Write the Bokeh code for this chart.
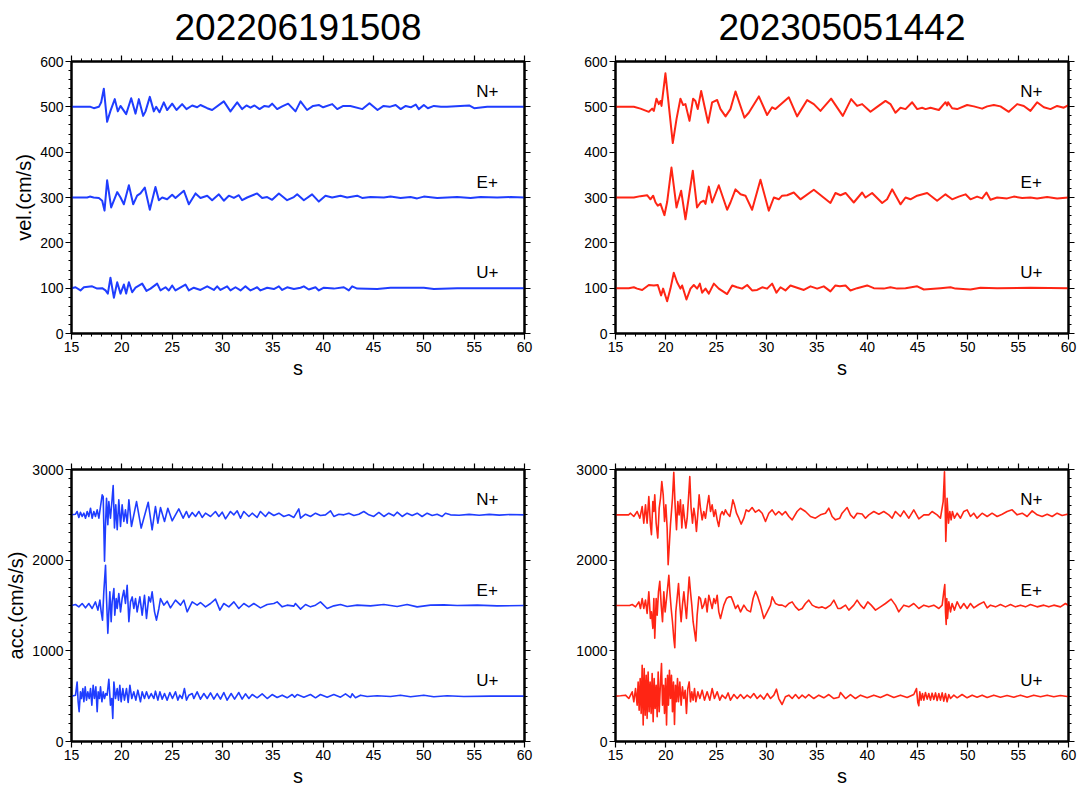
from bokeh.plotting import figure
from bokeh.layouts import column, row
from bokeh.models import Range1d, LinearAxis, SingleIntervalTicker
from bokeh.embed import file_html
from bokeh.resources import INLINE
from bokeh.core.properties import value

FONT = "Liberation Sans"
BLUE = "#1f3dff"
RED = "#ff2514"

titles = ["202206191508", "202305051442"]
components = ["N+", "E+", "U+"]
x_limits = (15, 60)
vel_limits = (0, 600)
acc_limits = (0, 3000)
vel_baselines = [500, 300, 100]
acc_baselines = [2500, 1500, 500]

# ---- velocity, event 202206191508 (time s, cm/s) ----
vel_2022_N = [(15.0,500),(16.89,500),(17.22,497),(17.72,500),(17.95,510),(18.21,540),(18.54,467),(18.87,491),(19.30,517),(19.60,490),(19.87,502),(20.43,484),(20.93,519),(21.36,485),(21.69,517),(22.12,480),(22.35,490),(22.78,522),(23.18,490),(23.41,500),(23.74,488),(24.17,510),(24.50,493),(25.00,507),(25.43,493),(25.99,506),(26.42,495),(26.99,503),(27.48,499),(27.81,504),(28.48,497),(28.97,493),(30.13,512),(30.79,490),(31.46,510),(31.95,495),(32.38,503),(32.78,498),(33.18,503),(33.68,495),(34.17,502),(34.60,500),(34.93,507),(35.43,495),(35.93,501),(36.52,507),(37.25,490),(37.75,512),(38.40,493),(39.00,502),(39.60,504),(40.00,499),(40.90,506),(41.40,495),(42.00,502),(42.70,502),(43.90,495),(44.60,508),(45.40,493),(46.00,502),(46.60,500),(47.20,504),(47.70,495),(48.20,502),(48.70,499),(49.20,505),(49.50,495),(50.00,504),(50.40,497),(51.00,502),(51.70,500),(52.30,500),(54.50,503),(55.00,497),(56.30,500),(60.00,500)]
vel_2022_E = [(15.0,300),(16.56,300),(16.82,302),(17.2,300),(17.72,299),(18.05,293),(18.28,271),(18.54,338),(18.94,278),(19.54,312),(19.87,300),(20.20,285),(20.70,327),(21.13,285),(21.52,304),(21.85,309),(22.28,322),(22.78,273),(23.34,323),(23.68,294),(24.01,300),(24.50,296),(25.00,306),(25.33,299),(26.16,315),(26.66,285),(27.32,309),(27.81,299),(28.48,304),(28.97,294),(29.64,307),(30.13,293),(30.63,304),(31.13,299),(31.62,305),(31.95,294),(32.45,300),(33.44,309),(33.94,299),(34.44,301),(34.93,295),(35.60,309),(36.42,294),(37.09,301),(37.42,307),(38.08,294),(38.90,307),(39.57,291),(40.23,304),(40.89,300),(41.72,304),(42.38,300),(43.38,304),(43.87,299),(44.70,301),(46.03,300),(46.69,302),(47.68,299),(48.68,301),(49.34,298),(50.00,302),(51.33,299),(53.31,301),(54.64,299),(55.63,301),(57.29,300),(58.61,301),(60.0,300)]
vel_2022_U = [(15.0,100),(15.4,102),(15.89,95),(16.23,102),(17.05,104),(17.55,99),(18.05,100),(18.38,95),(18.61,88),(18.87,123),(19.21,79),(19.54,113),(19.87,88),(20.2,108),(20.43,88),(20.7,113),(21.03,91),(21.36,101),(22.02,110),(22.45,94),(22.85,99),(23.51,110),(23.84,95),(24.34,102),(24.67,95),(25.0,106),(25.33,95),(26.32,108),(26.66,95),(27.15,101),(27.81,96),(28.48,104),(29.14,96),(29.47,104),(29.8,96),(30.46,104),(30.79,95),(31.29,102),(31.79,95),(32.28,104),(32.78,95),(33.44,102),(33.77,95),(34.44,101),(35.1,98),(35.6,104),(35.93,96),(36.42,102),(37.09,98),(37.75,101),(38.08,104),(38.57,97),(39.24,102),(39.57,95),(40.07,101),(41.06,99),(42.05,102),(42.55,95),(42.88,104),(43.38,99),(45.36,98),(46.69,101),(50.0,101),(50.99,98),(53.31,100),(60.0,100)]

# ---- velocity, event 202305051442 ----
vel_2023_N = [(15.0,500),(16.82,500),(17.48,496),(18.31,489),(18.64,496),(18.81,491),(19.07,518),(19.30,506),(19.47,513),(19.57,502),(19.96,574),(20.69,420),(21.06,473),(21.45,518),(21.72,504),(21.95,506),(22.35,469),(22.71,518),(22.94,513),(23.17,495),(23.51,535),(24.20,465),(24.60,510),(25.10,515),(25.43,495),(25.93,479),(26.42,495),(26.92,534),(27.81,476),(28.24,487),(29.24,523),(30.06,482),(30.56,499),(30.89,495),(32.22,521),(33.04,479),(34.04,515),(34.70,506),(35.36,491),(36.42,518),(37.58,480),(38.41,517),(39.00,502),(39.50,506),(40.33,489),(40.99,500),(41.82,513),(42.31,506),(42.81,487),(43.31,498),(43.81,495),(44.47,510),(44.97,495),(45.46,498),(45.80,495),(46.29,498),(47.12,493),(47.61,506),(47.78,510),(47.95,503),(48.04,510),(48.44,497),(48.94,495),(49.93,504),(50.60,501),(51.42,496),(51.92,501),(52.58,504),(53.24,501),(54.07,489),(54.90,506),(55.56,502),(56.22,491),(56.88,510),(57.55,499),(58.21,495),(58.87,502),(59.53,498),(60.00,504)]
vel_2023_E = [(15.0,300),(16.82,300),(17.48,303),(18.14,305),(18.47,296),(18.74,304),(18.98,289),(19.2,282),(19.47,286),(19.86,261),(20.13,290),(20.56,366),(21.06,278),(21.19,289),(21.52,315),(21.95,252),(22.68,359),(23.1,278),(23.44,289),(23.77,293),(23.94,286),(24.27,324),(24.6,289),(25.26,327),(26.09,273),(26.42,289),(26.92,318),(27.42,307),(27.91,304),(28.57,273),(29.4,339),(30.23,271),(30.73,300),(31.22,296),(31.55,304),(32.05,305),(32.71,311),(33.37,296),(34.7,317),(36.35,288),(36.85,310),(37.35,305),(37.85,310),(38.67,289),(39.5,311),(39.83,300),(40.49,310),(41.49,288),(41.98,296),(42.48,318),(43.31,285),(43.81,300),(44.3,296),(44.97,304),(45.96,310),(46.95,293),(47.78,307),(48.44,296),(49.1,302),(49.77,307),(50.26,296),(50.92,302),(51.42,298),(51.85,311),(52.25,295),(52.91,300),(53.9,298),(54.57,302),(55.4,299),(56.22,300),(56.88,298),(57.88,301),(58.87,298),(60.0,300)]
vel_2023_U = [(15.0,100),(16.32,100),(16.82,102),(17.15,99),(17.65,96),(18.31,107),(18.81,106),(19.2,107),(19.53,84),(19.73,99),(20.13,71),(20.46,99),(20.79,134),(21.12,113),(21.45,99),(21.62,106),(22.05,75),(22.45,99),(22.78,107),(23.11,99),(23.38,110),(23.61,90),(23.94,99),(24.27,88),(24.77,110),(25.26,99),(26.09,87),(26.59,106),(27.08,102),(27.58,99),(28.08,107),(28.57,95),(29.07,96),(29.57,102),(30.06,99),(30.56,110),(30.99,90),(31.39,102),(31.88,95),(32.38,106),(33.04,101),(33.71,96),(34.37,104),(35.03,99),(35.69,104),(36.35,93),(36.85,106),(37.28,104),(37.85,106),(38.34,95),(39.0,100),(40.0,106),(40.66,100),(41.65,99),(42.31,102),(42.98,99),(43.81,100),(44.97,104),(45.63,97),(47.28,100),(48.28,102),(48.77,99),(50.26,97),(51.26,101),(52.91,100),(56.22,101),(60.0,100)]

# ---- acceleration, event 202206191508 (time s, cm/s/s) ----
acc_2022_N = [(15.0,2500),(15.4,2507),(15.56,2537),(15.73,2471),(15.89,2529),(16.06,2482),(16.23,2518),(16.39,2463),(16.56,2537),(16.72,2482),(16.89,2573),(17.05,2463),(17.22,2537),(17.38,2482),(17.55,2555),(17.72,2463),(17.88,2592),(18.05,2720),(18.15,2701),(18.28,1988),(18.38,2390),(18.48,2683),(18.61,2390),(18.71,2646),(18.87,2463),(19.04,2683),(19.14,2822),(19.27,2354),(19.4,2610),(19.54,2335),(19.7,2665),(19.87,2372),(20.03,2610),(20.2,2427),(20.36,2555),(20.53,2408),(20.7,2665),(20.96,2372),(21.46,2646),(21.92,2354),(22.62,2639),(23.01,2335),(23.34,2592),(23.58,2408),(23.84,2580),(24.24,2427),(24.57,2573),(25.0,2434),(25.66,2566),(26.09,2463),(26.42,2537),(26.66,2471),(26.99,2526),(27.32,2482),(27.65,2537),(27.98,2471),(28.31,2518),(28.81,2482),(29.3,2537),(29.64,2482),(29.97,2529),(30.3,2456),(30.79,2537),(31.13,2500),(31.46,2544),(31.79,2463),(32.12,2537),(32.62,2482),(32.95,2518),(33.44,2471),(33.77,2537),(34.27,2482),(34.6,2529),(35.1,2493),(35.6,2518),(36.09,2482),(36.59,2500),(37.09,2471),(37.58,2566),(37.75,2463),(38.25,2507),(38.74,2482),(39.24,2518),(39.73,2493),(40.23,2500),(40.73,2544),(41.06,2482),(41.56,2507),(42.05,2500),(42.55,2518),(43.05,2493),(43.54,2507),(44.04,2537),(44.54,2500),(45.03,2482),(45.53,2526),(46.03,2482),(46.52,2518),(47.02,2489),(47.35,2529),(47.85,2482),(48.34,2518),(48.84,2493),(49.34,2518),(49.83,2482),(50.33,2518),(50.83,2493),(51.32,2507),(51.82,2482),(52.15,2518),(52.65,2500),(53.5,2495),(54.5,2505),(55.5,2495),(56.5,2505),(57.5,2497),(58.5,2503),(60.0,2500)]
acc_2022_E = [(15.0,1500),(15.4,1511),(15.73,1485),(16.06,1522),(16.39,1474),(16.72,1522),(17.05,1467),(17.38,1540),(17.62,1449),(17.82,1559),(17.95,1430),(18.08,1339),(18.21,1650),(18.38,1943),(18.48,1577),(18.61,1193),(18.71,1430),(18.81,1650),(18.94,1321),(19.04,1540),(19.21,1687),(19.3,1394),(19.44,1577),(19.54,1467),(19.7,1632),(19.87,1430),(20.03,1577),(20.2,1668),(20.36,1522),(20.53,1723),(20.7,1321),(20.86,1540),(21.03,1595),(21.19,1467),(21.36,1577),(21.52,1430),(21.79,1595),(22.02,1394),(22.25,1613),(22.45,1357),(22.68,1595),(22.85,1540),(23.01,1650),(23.25,1430),(23.44,1339),(23.68,1467),(23.84,1577),(24.17,1504),(24.5,1548),(24.83,1474),(25.33,1559),(25.83,1504),(26.16,1559),(26.49,1430),(26.99,1540),(27.48,1504),(27.81,1533),(28.31,1485),(28.81,1522),(29.3,1570),(29.74,1449),(30.13,1522),(30.63,1485),(31.13,1540),(31.62,1467),(32.12,1522),(32.62,1485),(33.11,1522),(33.77,1474),(34.44,1511),(35.1,1522),(35.43,1540),(35.93,1485),(36.42,1504),(37.09,1493),(37.25,1522),(37.75,1460),(38.25,1511),(38.74,1485),(39.24,1504),(39.73,1540),(40.4,1467),(41.06,1496),(41.72,1511),(42.38,1489),(43.38,1504),(44.7,1496),(46.03,1511),(47.35,1489),(48.34,1511),(49.34,1485),(50.66,1504),(51.99,1507),(53.31,1500),(55.3,1504),(57.28,1496),(60.0,1500)]
acc_2022_U = [(15.0,500),(15.4,511),(15.56,657),(15.66,438),(15.76,328),(15.89,548),(15.99,474),(16.13,584),(16.23,438),(16.36,602),(16.49,456),(16.62,548),(16.76,474),(16.89,584),(17.02,401),(17.15,621),(17.28,474),(17.42,602),(17.55,328),(17.65,548),(17.78,474),(17.88,602),(18.02,438),(18.15,548),(18.28,474),(18.41,529),(18.54,511),(18.71,687),(18.87,401),(19.0,474),(19.1,255),(19.21,657),(19.37,474),(19.54,584),(19.67,456),(19.8,621),(19.93,438),(20.1,584),(20.26,456),(20.46,584),(20.63,430),(20.8,621),(20.99,474),(21.19,548),(21.39,456),(21.59,566),(21.85,438),(22.02,548),(22.25,474),(22.45,548),(22.68,474),(22.92,529),(23.18,474),(23.34,555),(23.58,456),(23.78,548),(24.01,467),(24.24,529),(24.5,456),(24.77,540),(25.03,474),(25.33,548),(25.56,456),(25.76,511),(25.99,474),(26.22,584),(26.42,456),(26.66,511),(26.99,529),(27.15,474),(27.48,548),(27.81,467),(28.15,529),(28.48,474),(28.81,536),(29.14,467),(29.47,529),(29.8,467),(30.13,540),(30.46,456),(30.86,529),(31.2,467),(31.62,540),(31.95,467),(32.28,526),(32.62,474),(32.95,518),(33.44,482),(33.94,526),(34.44,474),(34.93,518),(35.43,485),(35.93,511),(36.42,482),(36.92,518),(37.17,489),(37.42,518),(38.08,489),(38.74,518),(39.24,482),(39.73,518),(40.4,489),(41.06,518),(41.72,489),(42.22,526),(42.72,485),(42.88,526),(43.21,482),(43.71,511),(44.37,496),(45.36,504),(46.69,496),(47.68,511),(48.68,493),(50.0,511),(50.99,493),(52.32,504),(53.97,496),(56.62,500),(60.0,500)]

# ---- acceleration, event 202305051442 ----
acc_2023_N = [(15.0,2500),(16.3,2500),(16.49,2518),(16.82,2482),(17.15,2537),(17.42,2463),(17.65,2592),(17.81,2408),(17.98,2610),(18.14,2408),(18.31,2701),(18.47,2390),(18.57,2280),(18.71,2646),(18.81,2537),(18.9,2720),(19.04,2408),(19.2,2244),(19.34,2573),(19.47,2683),(19.6,2866),(19.74,2720),(19.87,2427),(20.0,2610),(20.13,2354),(20.23,1951),(20.33,2134),(20.46,2390),(20.66,2683),(20.79,2968),(20.92,2610),(21.06,2335),(21.19,2646),(21.32,2500),(21.45,2665),(21.59,2354),(21.72,2610),(21.85,2463),(21.99,2354),(22.12,2463),(22.25,2683),(22.38,2921),(22.51,2573),(22.65,2408),(22.78,2573),(22.91,2482),(23.04,2317),(23.17,2500),(23.31,2720),(23.44,2573),(23.61,2445),(23.77,2537),(23.94,2463),(24.1,2592),(24.27,2712),(24.44,2537),(24.6,2610),(24.77,2482),(24.93,2555),(25.1,2445),(25.26,2372),(25.43,2500),(25.59,2537),(25.76,2500),(25.92,2555),(26.09,2518),(26.36,2482),(26.52,2573),(26.66,2665),(26.82,2610),(27.02,2518),(27.25,2463),(27.48,2398),(27.75,2463),(27.98,2555),(28.24,2537),(28.57,2580),(28.9,2529),(29.24,2555),(29.57,2518),(29.9,2427),(30.23,2518),(30.56,2555),(30.89,2500),(31.22,2537),(31.55,2500),(31.88,2537),(32.22,2482),(32.55,2445),(33.04,2537),(33.37,2573),(33.87,2537),(34.37,2482),(34.86,2463),(35.36,2500),(35.86,2518),(36.19,2573),(36.52,2482),(36.85,2445),(37.28,2463),(37.51,2518),(38.01,2580),(38.34,2500),(38.67,2463),(39.0,2518),(39.5,2510),(39.83,2463),(40.16,2500),(40.66,2537),(41.16,2507),(41.65,2537),(42.15,2500),(42.48,2463),(42.81,2537),(43.31,2482),(43.64,2544),(44.14,2463),(44.63,2555),(45.13,2456),(45.63,2500),(46.12,2500),(46.45,2537),(46.95,2500),(47.28,2463),(47.55,2646),(47.68,2976),(47.74,2665),(47.81,2207),(47.88,2427),(47.94,2683),(48.08,2408),(48.21,2537),(48.34,2445),(48.47,2537),(48.67,2463),(48.94,2518),(49.27,2463),(49.6,2537),(49.93,2555),(50.26,2482),(50.59,2518),(50.92,2463),(51.42,2518),(51.92,2482),(52.41,2518),(52.91,2482),(53.41,2507),(53.9,2537),(54.4,2555),(54.9,2500),(55.4,2518),(55.89,2482),(56.39,2544),(56.89,2500),(57.38,2482),(57.88,2507),(58.38,2482),(58.87,2518),(59.37,2493),(59.87,2507),(60.0,2500)]
acc_2023_E = [(15.0,1500),(16.4,1500),(16.66,1511),(16.99,1485),(17.32,1540),(17.48,1467),(17.65,1577),(17.81,1467),(17.98,1559),(18.14,1412),(18.31,1650),(18.47,1357),(18.57,1430),(18.71,1248),(18.81,1577),(18.9,1138),(19.04,1577),(19.14,1394),(19.27,1650),(19.4,1767),(19.54,1504),(19.67,1321),(19.8,1650),(19.93,1430),(20.07,1577),(20.2,1723),(20.3,1833),(20.4,1650),(20.53,1467),(20.66,1321),(20.79,1138),(20.89,1035),(20.99,1430),(21.12,1577),(21.26,1741),(21.39,1504),(21.52,1321),(21.65,1504),(21.79,1650),(21.92,1504),(22.05,1357),(22.18,1577),(22.32,1815),(22.45,1650),(22.58,1504),(22.71,1321),(22.85,1211),(22.98,1108),(23.11,1394),(23.28,1595),(23.44,1577),(23.61,1467),(23.77,1504),(23.94,1577),(24.1,1430),(24.27,1613),(24.44,1540),(24.6,1467),(24.77,1577),(24.93,1522),(25.1,1613),(25.26,1430),(25.43,1357),(25.59,1430),(25.76,1504),(26.03,1577),(26.26,1595),(26.49,1595),(26.69,1540),(26.92,1467),(27.15,1504),(27.42,1430),(27.75,1504),(28.08,1449),(28.41,1430),(28.67,1577),(28.91,1657),(29.14,1595),(29.4,1504),(29.74,1357),(30.07,1430),(30.4,1504),(30.56,1595),(30.89,1522),(31.22,1504),(31.55,1504),(31.88,1485),(32.22,1522),(32.55,1540),(32.88,1485),(33.21,1449),(33.54,1467),(33.87,1522),(34.2,1559),(34.54,1504),(34.87,1485),(35.2,1474),(35.53,1485),(35.86,1467),(36.36,1504),(36.69,1559),(37.09,1467),(37.35,1467),(37.85,1504),(38.18,1449),(38.67,1504),(39.0,1559),(39.34,1504),(39.67,1467),(40.06,1540),(40.4,1504),(40.83,1449),(41.32,1485),(41.82,1522),(42.38,1570),(42.81,1504),(43.14,1430),(43.64,1504),(44.14,1485),(44.63,1522),(45.13,1467),(45.63,1504),(46.12,1485),(46.62,1504),(47.12,1467),(47.45,1504),(47.61,1650),(47.71,1731),(47.78,1430),(47.85,1291),(47.91,1577),(47.98,1357),(48.11,1540),(48.28,1430),(48.44,1522),(48.67,1449),(48.94,1540),(49.27,1467),(49.6,1522),(49.93,1467),(50.26,1522),(50.59,1474),(51.09,1511),(51.59,1540),(51.92,1474),(52.25,1504),(52.75,1485),(53.24,1511),(53.74,1485),(54.24,1511),(54.73,1485),(55.23,1504),(55.73,1485),(56.22,1511),(56.88,1485),(57.55,1504),(58.04,1485),(58.54,1504),(59.2,1485),(59.7,1522),(60.0,1500)]
acc_2023_U = [(15.0,500),(15.5,504),(15.99,511),(16.32,474),(16.66,548),(16.82,438),(16.99,584),(17.15,401),(17.25,657),(17.35,346),(17.45,694),(17.55,310),(17.65,840),(17.75,182),(17.85,804),(17.95,291),(18.05,731),(18.14,255),(18.24,767),(18.34,328),(18.44,657),(18.54,310),(18.64,749),(18.74,218),(18.84,694),(18.94,365),(19.04,621),(19.14,273),(19.24,767),(19.34,328),(19.47,657),(19.57,859),(19.67,401),(19.77,621),(19.87,310),(19.97,694),(20.07,182),(20.17,731),(20.26,401),(20.36,785),(20.46,474),(20.56,731),(20.66,328),(20.76,657),(20.86,189),(20.96,621),(21.06,438),(21.16,694),(21.26,438),(21.39,657),(21.52,401),(21.65,602),(21.79,474),(21.92,566),(22.05,310),(22.18,584),(22.32,657),(22.45,438),(22.58,548),(22.71,456),(22.85,584),(22.98,438),(23.18,548),(23.38,474),(23.61,566),(23.84,456),(24.1,548),(24.37,456),(24.6,584),(24.83,474),(25.1,548),(25.36,456),(25.59,511),(25.93,474),(26.19,536),(26.42,456),(26.76,518),(27.09,474),(27.42,518),(27.75,474),(28.08,511),(28.41,482),(28.74,529),(29.07,474),(29.4,511),(29.74,467),(30.07,529),(30.4,474),(30.73,511),(30.99,577),(31.22,474),(31.55,408),(31.88,493),(32.22,511),(32.55,474),(32.88,518),(33.21,474),(33.54,511),(33.87,482),(34.2,518),(34.7,474),(35.2,511),(35.69,482),(36.19,518),(36.69,474),(37.19,489),(37.35,540),(37.85,474),(38.34,518),(38.84,474),(39.34,511),(40.0,482),(40.66,511),(41.32,485),(41.98,518),(42.65,485),(43.31,511),(43.97,485),(44.63,518),(44.9,584),(45.03,430),(45.13,394),(45.23,548),(45.36,456),(45.49,529),(45.63,456),(45.79,540),(45.96,467),(46.12,529),(46.29,456),(46.45,533),(46.62,463),(46.79,536),(46.95,452),(47.12,529),(47.28,456),(47.45,536),(47.61,445),(47.78,529),(47.94,438),(48.11,518),(48.28,474),(48.61,511),(48.94,482),(49.43,518),(49.93,482),(50.43,511),(50.92,489),(51.42,511),(51.92,485),(52.58,511),(53.24,489),(53.9,507),(54.57,489),(55.23,511),(55.89,489),(56.55,511),(57.22,493),(57.88,511),(58.54,493),(59.2,507),(59.87,496),(60.0,500)]


def style_axis(ax, labels=True):
    ax.axis_line_width = 2
    ax.axis_line_color = "black"
    ax.major_tick_out = 6
    ax.major_tick_in = 0
    ax.minor_tick_out = 3
    ax.minor_tick_in = 0
    ax.major_tick_line_width = 1.2
    ax.minor_tick_line_width = 1
    ax.major_tick_line_color = "black"
    ax.minor_tick_line_color = "black"
    ax.major_label_text_font = FONT
    ax.major_label_text_font_size = "14px"
    ax.major_label_text_color = "black"
    ax.major_label_standoff = 2
    ax.axis_label_text_font = FONT
    ax.axis_label_text_font_size = "20px"
    ax.axis_label_text_font_style = "normal"
    ax.axis_label_text_color = "black"
    ax.axis_label_standoff = 2
    if not labels:
        ax.major_label_text_font_size = "0px"
        ax.major_label_text_color = None
        ax.major_label_standoff = 0


TITLE_H = 50  # height of the strip carrying the event title


def title_strip(text, width, bl, br):
    # a bare strip, one screen pixel per y unit; title centred 26 px below its top
    t = figure(width=width, height=TITLE_H, x_range=Range1d(*x_limits),
               y_range=Range1d(0, TITLE_H), output_backend="svg",
               toolbar_location=None, x_axis_type=None, y_axis_type=None,
               min_border=0, min_border_left=bl, min_border_right=br,
               min_border_top=0, min_border_bottom=0)
    t.outline_line_color = None
    t.xgrid.visible = False
    t.ygrid.visible = False
    t.text(x=[sum(x_limits) / 2], y=[TITLE_H - 26], text=[text], text_align="center",
           text_baseline="middle", text_font=value(FONT),
           text_font_size="37px", text_color="black")
    return t


def panel(traces, baselines, label_dy, color, lw, ylim, y_int, y_minor, ylabel,
          width, height, bl, br, bt, bb):
    p = figure(width=width, height=height, x_range=Range1d(*x_limits),
               y_range=Range1d(*ylim), output_backend="svg", toolbar_location=None,
               min_border_left=bl, min_border_right=br, min_border_top=bt,
               min_border_bottom=bb, background_fill_color="white",
               border_fill_color="white")
    p.xgrid.visible = False
    p.ygrid.visible = False
    p.outline_line_color = "black"
    p.outline_line_width = 2
    p.xaxis.ticker = SingleIntervalTicker(interval=5, num_minor_ticks=5)
    p.yaxis.ticker = SingleIntervalTicker(interval=y_int, num_minor_ticks=y_minor)
    style_axis(p.xaxis[0])
    style_axis(p.yaxis[0])
    p.xaxis.axis_label = "s"
    if ylabel:
        p.yaxis.axis_label = ylabel
    top = LinearAxis(ticker=SingleIntervalTicker(interval=5, num_minor_ticks=5))
    style_axis(top, labels=False)
    p.add_layout(top, "above")
    right = LinearAxis(ticker=SingleIntervalTicker(interval=y_int, num_minor_ticks=y_minor))
    style_axis(right, labels=False)
    p.add_layout(right, "right")
    for tr in traces:
        xs = [a for a, b in tr]
        ys = [b for a, b in tr]
        p.line(xs, ys, line_color=color, line_width=lw, line_join="round")
    p.text(x=[56.3] * 3, y=[b + label_dy for b in baselines], text=components,
           text_align="center", text_baseline="middle",
           text_font=value(FONT), text_font_size="17px", text_color="black")
    return p


# page origin is (0, 0): frames at x 71-524 / 615-1068, y 61-333 / 469-742
t1 = title_strip(titles[0], 540, 71, 16)
t2 = title_strip(titles[1], 538, 75, 10)
p1 = panel([vel_2022_N, vel_2022_E, vel_2022_U], vel_baselines, 34, BLUE, 2,
           vel_limits, 100, 5, "vel.(cm/s)", 540, 393 - TITLE_H, 71, 16, 61 - TITLE_H, 60)
p2 = panel([vel_2023_N, vel_2023_E, vel_2023_U], vel_baselines, 34, RED, 2,
           vel_limits, 100, 5, None, 538, 393 - TITLE_H, 75, 10, 61 - TITLE_H, 60)
p3 = panel([acc_2022_N, acc_2022_E, acc_2022_U], acc_baselines, 170, BLUE, 1.6,
           acc_limits, 1000, 10, "acc.(cm/s/s)", 540, 396, 71, 16, 76, 47)
p4 = panel([acc_2023_N, acc_2023_E, acc_2023_U], acc_baselines, 170, RED, 1.6,
           acc_limits, 1000, 10, None, 538, 396, 75, 10, 76, 47)

layout = column(row(t1, t2), row(p1, p2), row(p3, p4))
open("out.html", "w").write(file_html(layout, INLINE))
